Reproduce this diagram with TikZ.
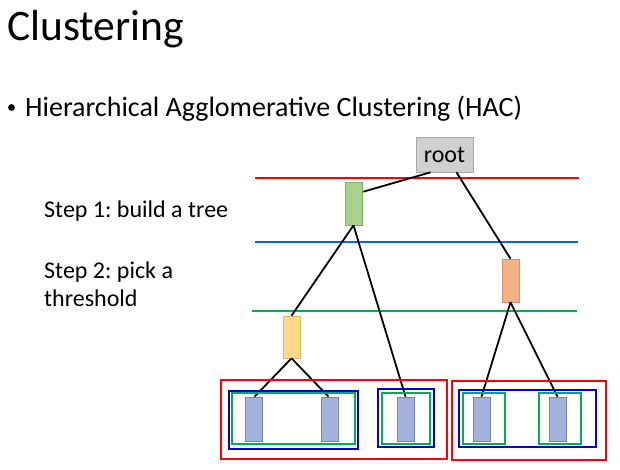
\documentclass[tikz,border=0pt]{standalone}
\usepackage{fontspec}
\setmainfont{Carlito}
\frenchspacing
\usetikzlibrary{calc}
\definecolor{leafc}{HTML}{A4B1DC}
\definecolor{leafb}{HTML}{7684B8}
\definecolor{grnf}{HTML}{A9D18E}
\definecolor{grnb}{HTML}{7FAE63}
\definecolor{orgf}{HTML}{F4B183}
\definecolor{orgb}{HTML}{D99070}
\definecolor{ylwf}{HTML}{FFD98A}
\definecolor{ylwb}{HTML}{E0B860}
\definecolor{rootf}{HTML}{D0D0D0}
\definecolor{rootb}{HTML}{A8A8A8}
\definecolor{lred}{HTML}{FF0000}
\definecolor{lblue}{HTML}{0070C0}
\definecolor{lgreen}{HTML}{00B050}
\definecolor{bblue}{HTML}{0000E0}
\tikzset{
  treenode/.style={draw, line width=0.6pt, minimum width=17pt, minimum height=43pt, inner sep=0pt},
  leaf/.style={treenode, fill=leafc, draw=leafb, minimum height=44pt},
  edge/.style={line width=1.8pt, black},
  thr/.style={line width=2.6pt},
  grp/.style={line width=2.6pt},
  steplbl/.style={font=\fontsize{24}{28}\selectfont, anchor=base west, inner sep=0pt}
}
\begin{document}
\begin{tikzpicture}[x=1pt,y=-1pt]
\useasboundingbox (0,0) rectangle (620,469);
\fill[white] (0,0) rectangle (620,469);
% title
\node[anchor=base west, inner sep=0pt, font=\fontsize{43.5}{50}\selectfont] (title) at (7,40) {Clustering};
\fill (11.5,107.5) circle (3.4pt);
\node[anchor=base west, inner sep=0pt, font=\fontsize{28}{34}\selectfont] (bullet) at (25,116) {Hierarchical Agglomerative Clustering (HAC)};
% step labels
\node[steplbl] (s1) at (44,217) {Step 1: build a tree};
\node[steplbl] (s2) at (44,278) {Step 2: pick a};
\node[steplbl] (s3) at (44,306) {threshold};
% thresholds
\coordinate (r1) at (255,178); \coordinate (r2) at (579,178);
\coordinate (b1) at (255,242); \coordinate (b2) at (578,242);
\coordinate (g1) at (252,311); \coordinate (g2) at (577,311);
\draw[thr, lred] (r1) -- (r2);
\draw[thr, lblue] (b1) -- (b2);
\draw[thr, lgreen] (g1) -- (g2);
% nodes
\node[draw=rootb, fill=rootf, line width=0.6pt, minimum width=57pt, minimum height=35pt, inner sep=0pt, font=\fontsize{24}{28}\selectfont] (root) at (444.5,154.5) {root};
\node[treenode, fill=grnf, draw=grnb] (gn) at (353.5,203.5) {};
\node[treenode, fill=orgf, draw=orgb] (on) at (510.5,280.5) {};
\node[treenode, fill=ylwf, draw=ylwb, minimum height=42pt] (yn) at (291.5,337) {};
\node[leaf] (l1) at (253.5,419) {};
\node[leaf] (l2) at (329.5,419) {};
\node[leaf] (l3) at (405.5,419) {};
\node[leaf] (l4) at (481.5,419) {};
\node[leaf] (l5) at (557.5,419) {};
% edges
\draw[edge] ($(root.south)+(-14,0)$) -- ($(gn.north east)+(1,10)$);
\draw[edge] ($(root.south)+(12,0)$) -- (on.north);
\draw[edge] (gn.south) -- (yn.north);
\draw[edge] (gn.south) -- (l3.north);
\draw[edge] (on.south) -- (l4.north);
\draw[edge] (on.south) -- (l5.north);
\draw[edge] (yn.south) -- ($(l1.north)+(1,0)$);
\draw[edge] (yn.south) -- ($(l2.north)+(-1,0)$);
% groups
\draw[grp, lred] (221,380) rectangle (447,459);
\draw[grp, lred] (452,381) rectangle (606,460);
\draw[grp, bblue] (229,391) rectangle (358,449);
\draw[grp, lgreen] (232,393) rectangle (355,444);
\draw[grp, bblue] (378,389) rectangle (434,447);
\draw[grp, lgreen] (382,393) rectangle (430,444);
\draw[grp, bblue] (459,390) rectangle (596,447);
\draw[grp, lgreen] (463,393) rectangle (505,444);
\draw[grp, lgreen] (539,393) rectangle (581,444);
\end{tikzpicture}
\end{document}
